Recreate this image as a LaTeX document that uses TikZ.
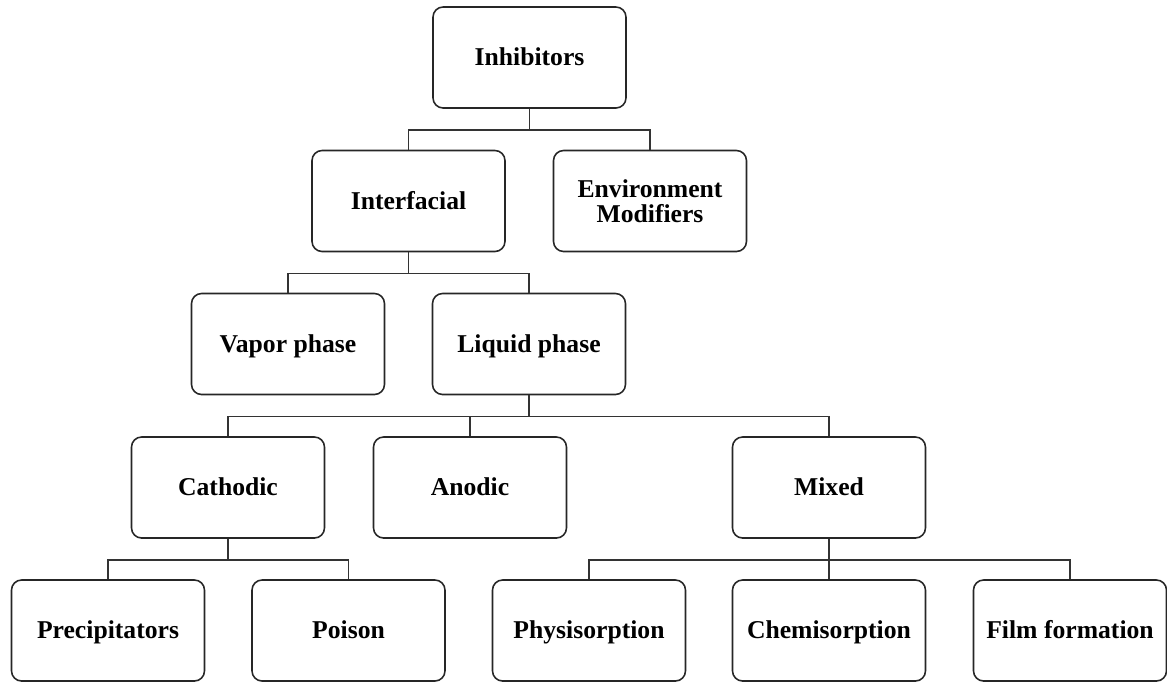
\documentclass[tikz,border=0pt]{standalone}
\usepackage{fontspec}
\setmainfont{Liberation Serif}
\usetikzlibrary{positioning}
\tikzset{
every box/.style={ % rounded boxes of the tree
draw=black!85,
line width=0.9pt,
rounded corners=0.2cm,
minimum width=3.86cm,
minimum height=2.02cm,
text height=2.1ex,
text depth=0pt,
align=center,
font=\bfseries\fontsize{14.6}{14.4}\selectfont},
link/.style={ % orthogonal connector
draw=black!80,
line width=0.9pt}}

\begin{document}
\begin{tikzpicture}[x=0.02cm,y=-0.02cm]
	\useasboundingbox (0,0) rectangle (1167,681);
	% level 0
	\node[every box] (inh) at (529.5,57.5) {Inhibitors};
	% level 1
	\node[every box] (inter) at (408.5,201) {Interfacial};
	\node[every box, text height=, text depth=] (env) at (650,201) {Environment\\Modifiers};
	% level 2
	\node[every box] (vapor) at (288,344) {Vapor phase};
	\node[every box] (liquid) at (529,344) {Liquid phase};
	% level 3
	\node[every box] (cath) at (228,487.5) {Cathodic};
	\node[every box] (anod) at (470,487.5) {Anodic};
	\node[every box] (mixed) at (829,487.5) {Mixed};
	% level 4
	\node[every box] (prec) at (108,630.5) {Precipitators};
	\node[every box] (poison) at (348.5,630.5) {Poison};
	\node[every box] (physi) at (589,630.5) {Physisorption};
	\node[every box] (chemi) at (829,630.5) {Chemisorption};
	\node[every box] (film) at (1070,630.5) {Film formation};
	% connectors
	\foreach \c in {inter,env} \draw[link] (inh.south) -- ++(0,21) -| (\c.north);
	\foreach \c in {vapor,liquid} \draw[link] (inter.south) -- ++(0,21) -| (\c.north);
	\foreach \c in {cath,anod,mixed} \draw[link] (liquid.south) -- ++(0,21) -| (\c.north);
	\foreach \c in {prec,poison} \draw[link] (cath.south) -- ++(0,21) -| (\c.north);
	\foreach \c in {physi,chemi,film} \draw[link] (mixed.south) -- ++(0,21) -| (\c.north);
\end{tikzpicture}
\end{document}
